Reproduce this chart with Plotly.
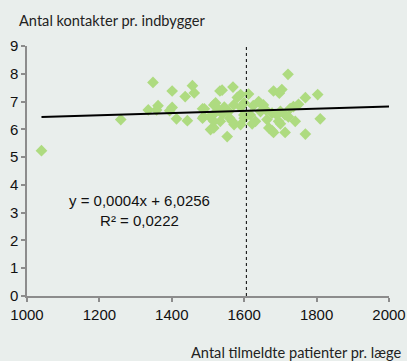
import plotly.graph_objects as go

# Patients per GP vs. contacts per inhabitant
patienter = [1040, 1259, 1348, 1335, 1362, 1358, 1401, 1401, 1394, 1413,
             1443, 1437, 1457, 1462, 1485, 1485, 1507, 1516, 1533, 1539,
             1569, 1721, 1681, 1704, 1697, 1769, 1803, 1810, 1769, 1713,
             1553, 1681, 1668, 1612, 1581, 1590, 1640, 1653, 1736, 1727,
             1741, 1695, 1700, 1631, 1622, 1590, 1572, 1567, 1534, 1516,
             1516, 1521, 1490, 1488, 1571, 1590, 1557, 1599, 1617, 1645,
             1677, 1690, 1713, 1722, 1663, 1677, 1520, 1540, 1505, 1545,
             1600, 1625, 1660, 1600, 1560, 1530, 1700, 1750]
kontakter = [5.23, 6.35, 7.69, 6.70, 6.85, 6.70, 7.38, 6.79, 6.67, 6.38,
             6.31, 7.18, 7.57, 7.31, 6.74, 6.40, 5.99, 6.05, 7.38, 7.41,
             7.52, 7.98, 7.38, 7.43, 7.30, 7.14, 7.25, 6.38, 5.83, 5.89,
             5.74, 5.89, 6.05, 7.27, 7.15, 7.25, 7.00, 6.88, 6.82, 6.75,
             6.29, 6.29, 6.20, 6.29, 6.20, 6.17, 6.17, 6.29, 6.29, 6.29,
             6.88, 6.95, 6.74, 6.46, 6.88, 6.80, 6.64, 6.52, 6.52, 6.64,
             6.58, 6.52, 6.52, 6.45, 6.35, 5.95, 6.60, 6.55, 6.45, 6.80,
             6.95, 6.85, 6.70, 6.40, 6.40, 6.70, 6.65, 6.90]

# Linear trend line: y = 0,0004x + 6,0256
haeldning = 0.0004
skaering = 6.0256
r2 = 0.0222
trend_x = [min(patienter), 2000]
trend_y = [haeldning * v + skaering for v in trend_x]

gennemsnit_x = 1606

x_ticks = [1000, 1200, 1400, 1600, 1800, 2000]
y_ticks = list(range(0, 10))

bg = "#e9eeec"
axis_col = "#8c8c8c"
tick_font = dict(family="Liberation Sans, Arial", size=15, color="#111")
title_font = dict(family="Lato, Open Sans", size=14.6, color="#222")

fig = go.Figure()
fig.add_trace(go.Scatter(
    x=patienter, y=kontakter, mode="markers",
    marker=dict(symbol="diamond", size=9, color="#aedb80", line=dict(width=0)),
    hoverinfo="x+y", showlegend=False,
))
fig.add_trace(go.Scatter(
    x=trend_x, y=trend_y, mode="lines",
    line=dict(color="black", width=2), showlegend=False,
))

fig.add_shape(type="line", x0=gennemsnit_x, x1=gennemsnit_x, y0=0, y1=9.1,
              xref="x", yref="y", line=dict(color="black", width=1, dash="dot"))

fig.add_annotation(x=1310, y=3.08, xref="x", yref="y", showarrow=False,
                   text=f"y = 0,0004x + 6,0256<br>R² = {r2:.4f}".replace(".", ","),
                   font=dict(family="Liberation Sans, Arial", size=15, color="#111"),
                   align="center")

fig.add_annotation(x=-10 / 362, y=1.0, yshift=26, xref="paper", yref="paper",
                   xanchor="left", yanchor="middle", showarrow=False,
                   text="Antal kontakter pr. indbygger", font=title_font)
fig.add_annotation(x=1.0, y=0, xref="paper", yref="paper", yshift=-56,
                   xanchor="right", yanchor="middle", xshift=14, showarrow=False,
                   text="Antal tilmeldte patienter pr. læge", font=title_font)

fig.update_layout(
    width=407, height=361,
    margin=dict(l=27, r=18, t=46, b=65),
    paper_bgcolor=bg, plot_bgcolor=bg,
    font=tick_font,
    xaxis=dict(range=[1000, 2000], tickvals=x_ticks, showgrid=False, zeroline=False,
               showline=True, linecolor=axis_col, linewidth=1.5, automargin=False,
               ticks="outside", ticklen=4, tickcolor=axis_col, tickwidth=1.5,
               tickfont=tick_font),
    yaxis=dict(range=[0, 9], tickvals=y_ticks, showgrid=False, zeroline=False,
               showline=True, linecolor=axis_col, linewidth=1.5, automargin=False,
               ticks="outside", ticklen=4, tickcolor=axis_col, tickwidth=1.5,
               tickfont=tick_font),
)

fig.write_html("out.html")
